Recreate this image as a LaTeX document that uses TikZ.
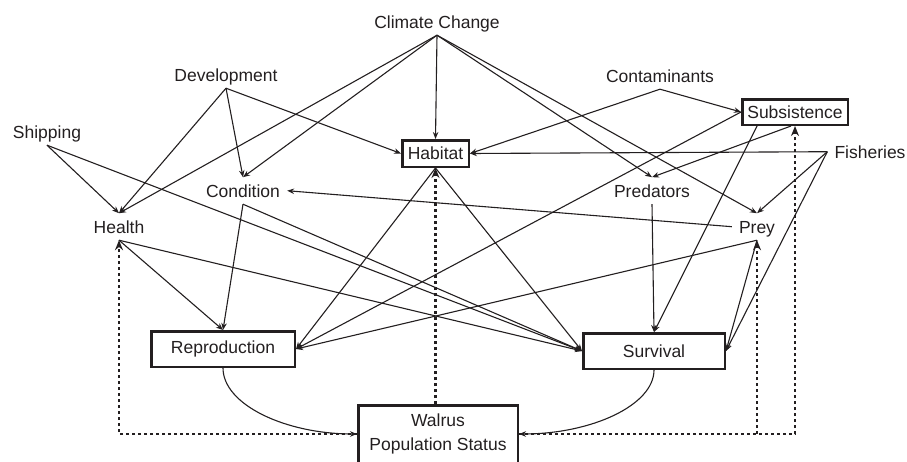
\documentclass[tikz,border=0pt]{standalone}
\usepackage{fontspec}
\setmainfont{Liberation Sans}
\usetikzlibrary{arrows.meta,calc}
\definecolor{ink}{HTML}{231F20}
\begin{document}
\begin{tikzpicture}[x=1pt,y=-1pt,
  font=\fontsize{17.5}{24}\selectfont, color=ink,
  lbl/.style={inner sep=7pt, text height=12.6pt, text depth=0pt, anchor=base},
  bx/.style={draw, line width=2.5pt, inner sep=0pt, align=center},
  conn/.style={line width=1.1pt, -{Stealth[length=7pt,width=5.5pt]}},
  dotconn/.style={line width=2.7pt, dash pattern=on 2.7pt off 3.3pt, -{Stealth[length=10pt,width=8pt]}},
  curveconn/.style={line width=1.1pt, -{Stealth[length=7pt,width=5.5pt]}},
]
\clip (0,0) rectangle (907,461);

% text labels
\node[lbl] (cc)    at (437,28)  {Climate Change};
\node[lbl] (dev)   at (226,81)  {Development};
\node[lbl] (ship)  at (47,138)  {Shipping};
\node[lbl] (cond)  at (243,197) {Condition};
\node[lbl] (health) at (119,233) {Health};
\node[lbl] (cont)  at (660,82)  {Contaminants};
\node[lbl] (fish)  at (870,158) {Fisheries};
\node[lbl] (pred)  at (652,197) {Predators};
\node[lbl] (prey)  at (757,233) {Prey};

% boxes
\node[bx, minimum width=66.5pt, minimum height=26.5pt]  (hab)    at (435.5,153.5) {Habitat};
\node[bx, minimum width=105.5pt, minimum height=25.5pt] (sub)    at (795,112)     {Subsistence};
\node[bx, minimum width=143.5pt, minimum height=35.5pt] (repro)  at (223,349)     {Reproduction};
\node[bx, minimum width=141.5pt, minimum height=35.5pt] (surv)   at (654,351)     {Survival};
\node[bx, minimum width=159.5pt, minimum height=57.5pt] (walrus) at (438,434)     {Walrus\\Population Status};

% climate change
\draw[conn] (cc.south) -- (health.north);
\draw[conn] (cc.south) -- (cond.north);
\draw[conn] (cc.south) -- (hab.north);
\draw[conn] (cc.south) -- (pred.north);
\draw[conn] (cc.south) -- (prey.north);
% development
\draw[conn] (dev.south) -- (health.north);
\draw[conn] (dev.south) -- (cond.north);
\draw[conn] (dev.south) -- (hab.west);
% shipping
\draw[conn] (ship.south) -- (health.north);
\draw[conn] (ship.south) -- (surv.west);
% contaminants
\draw[conn] (cont.south) -- (hab.east);
\draw[conn] (cont.south) -- (sub.west);
% fisheries
\draw[conn] (fish.west) -- (hab.east);
\draw[conn] (fish.west) -- (prey.north);
\draw[conn] (fish.west) -- (surv.east);
% subsistence
\draw[conn] ([xshift=-4pt]sub.south) -- (pred.north);
\draw[conn] (sub.west) -- (repro.east);
\draw[conn] ([xshift=-38pt]sub.south) -- (surv.north);
% habitat
\draw[conn] (hab.south) -- (repro.east);
\draw[conn] (hab.south) -- (surv.west);
% condition
\draw[conn] (cond.south) -- (repro.north);
\draw[conn] (cond.south) -- (surv.west);
% health
\draw[conn] (health.south) -- (repro.north);
\draw[conn] (health.south) -- (surv.west);
% prey
\draw[conn] (prey.west) -- (cond.east);
\draw[conn] (prey.south) -- (repro.east);
\draw[conn] (prey.south) -- (surv.east);
% predators
\draw[conn] (pred.south) -- (surv.north);

% curves to walrus
\draw[curveconn] (repro.south) .. controls +(0,36.5) and +(-72,0) .. (walrus.west);
\draw[curveconn] (surv.south) .. controls +(0,35) and +(73,0) .. (walrus.east);

% dotted feedback
\draw[dotconn] (hab.south |- walrus.north) -- (hab.south);
\draw[dotconn] (walrus.west) -- (health.south |- walrus.west) -- (health.south);
\draw[dotconn] (walrus.east) -- (sub.south |- walrus.east) -- (sub.south);
\draw[dotconn] (prey.south |- walrus.east) -- (prey.south);
\end{tikzpicture}
\end{document}
